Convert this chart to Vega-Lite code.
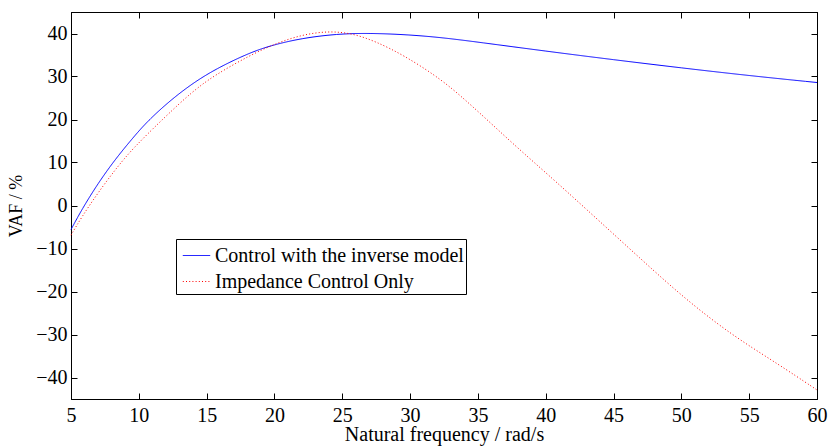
{
  "$schema": "https://vega.github.io/schema/vega-lite/v6.json",
  "width": 746,
  "height": 387,
  "autosize": "none",
  "padding": {"left": 71, "top": 12, "right": 14, "bottom": 47},
  "config": {
    "view": {"stroke": "#000", "strokeWidth": 1},
    "font": "Liberation Serif"
  },
  "data": {"values": [
    {"f": 5, "v": -5.6, "s": "Control with the inverse model"},
    {"f": 5.8, "v": -0.9, "s": "Control with the inverse model"},
    {"f": 7, "v": 5.2, "s": "Control with the inverse model"},
    {"f": 8.25, "v": 10.7, "s": "Control with the inverse model"},
    {"f": 9.5, "v": 15.5, "s": "Control with the inverse model"},
    {"f": 10.6, "v": 19.5, "s": "Control with the inverse model"},
    {"f": 12.3, "v": 24.4, "s": "Control with the inverse model"},
    {"f": 14, "v": 28.5, "s": "Control with the inverse model"},
    {"f": 15.7, "v": 31.8, "s": "Control with the inverse model"},
    {"f": 18, "v": 35.3, "s": "Control with the inverse model"},
    {"f": 19.7, "v": 37.2, "s": "Control with the inverse model"},
    {"f": 22, "v": 38.9, "s": "Control with the inverse model"},
    {"f": 24.6, "v": 39.9, "s": "Control with the inverse model"},
    {"f": 27, "v": 40.1, "s": "Control with the inverse model"},
    {"f": 30, "v": 39.7, "s": "Control with the inverse model"},
    {"f": 32.5, "v": 39.0, "s": "Control with the inverse model"},
    {"f": 35, "v": 38.0, "s": "Control with the inverse model"},
    {"f": 40, "v": 35.9, "s": "Control with the inverse model"},
    {"f": 45, "v": 33.9, "s": "Control with the inverse model"},
    {"f": 50, "v": 32.0, "s": "Control with the inverse model"},
    {"f": 55, "v": 30.2, "s": "Control with the inverse model"},
    {"f": 60, "v": 28.6, "s": "Control with the inverse model"},
    {"f": 5, "v": -6.9, "s": "Impedance Control Only"},
    {"f": 5.8, "v": -2.6, "s": "Impedance Control Only"},
    {"f": 7, "v": 3.0, "s": "Impedance Control Only"},
    {"f": 8.25, "v": 8.3, "s": "Impedance Control Only"},
    {"f": 9.5, "v": 13.1, "s": "Impedance Control Only"},
    {"f": 11.7, "v": 19.9, "s": "Impedance Control Only"},
    {"f": 14, "v": 26.7, "s": "Impedance Control Only"},
    {"f": 15.7, "v": 30.5, "s": "Impedance Control Only"},
    {"f": 18, "v": 34.6, "s": "Impedance Control Only"},
    {"f": 20, "v": 37.6, "s": "Impedance Control Only"},
    {"f": 22, "v": 39.7, "s": "Impedance Control Only"},
    {"f": 24, "v": 40.6, "s": "Impedance Control Only"},
    {"f": 25.8, "v": 40.0, "s": "Impedance Control Only"},
    {"f": 27.5, "v": 38.1, "s": "Impedance Control Only"},
    {"f": 29.5, "v": 35.0, "s": "Impedance Control Only"},
    {"f": 32.2, "v": 29.6, "s": "Impedance Control Only"},
    {"f": 34.2, "v": 24.2, "s": "Impedance Control Only"},
    {"f": 36.1, "v": 18.7, "s": "Impedance Control Only"},
    {"f": 38.1, "v": 12.9, "s": "Impedance Control Only"},
    {"f": 40.2, "v": 7.1, "s": "Impedance Control Only"},
    {"f": 42.8, "v": -0.3, "s": "Impedance Control Only"},
    {"f": 47.1, "v": -12.7, "s": "Impedance Control Only"},
    {"f": 50.3, "v": -21.8, "s": "Impedance Control Only"},
    {"f": 53.8, "v": -30.3, "s": "Impedance Control Only"},
    {"f": 57, "v": -36.6, "s": "Impedance Control Only"},
    {"f": 60, "v": -42.9, "s": "Impedance Control Only"}
  ]},
  "layer": [
    {
      "mark": {"type": "line", "strokeWidth": 1, "interpolate": "basis"},
      "encoding": {
        "x": {"field": "f", "type": "quantitative", "scale": {"domain": [5, 60], "nice": false, "zero": false},
              "axis": {"values": [5,10,15,20,25,30,35,40,45,50,55,60], "title": "Natural frequency / rad/s",
                       "grid": false, "domainColor": "#000", "tickColor": "#000", "labelColor": "#000", "titleColor": "#000",
                       "labelFont": "Liberation Serif", "titleFont": "Liberation Serif", "labelFontSize": 20, "titleFontSize": 20,
                       "titleFontWeight": "normal", "tickSize": -6, "labelPadding": 12, "titlePadding": -1, "labelFlush": false}},
        "y": {"field": "v", "type": "quantitative", "scale": {"domain": [-45, 45], "nice": false},
              "axis": {"values": [-40,-30,-20,-10,0,10,20,30,40], "title": "VAF / %",
                       "grid": false, "domainColor": "#000", "tickColor": "#000", "labelColor": "#000", "titleColor": "#000",
                       "labelFont": "Liberation Serif", "titleFont": "Liberation Serif", "labelFontSize": 20, "titleFontSize": 18,
                       "titleFontWeight": "normal", "tickSize": -6, "labelPadding": 10, "titlePadding": 10, "labelFlush": false}},
        "color": {"field": "s", "type": "nominal",
                  "scale": {"domain": ["Control with the inverse model", "Impedance Control Only"], "range": ["#0000ff", "#ff0000"]},
                  "legend": {"title": null, "orient": "none", "legendX": 105, "legendY": 227, "symbolType": "stroke",
                             "symbolSize": 750, "symbolStrokeWidth": 1, "labelFontSize": 20, "labelFont": "Liberation Serif", "labelColor": "#000",
                             "labelLimit": 0, "strokeColor": "#000", "padding": 2, "rowPadding": 1, "symbolOffset": 4, "fillColor": "#fff", "labelOffset": 4}},
        "strokeDash": {"field": "s", "type": "nominal",
                       "scale": {"domain": ["Control with the inverse model", "Impedance Control Only"], "range": [[1, 0], [1, 2.2]]},
                       "legend": {"title": null, "orient": "none", "legendX": 105, "legendY": 227, "symbolType": "stroke",
                             "symbolSize": 750, "symbolStrokeWidth": 1, "labelFontSize": 20, "labelFont": "Liberation Serif", "labelColor": "#000",
                             "labelLimit": 0, "strokeColor": "#000", "padding": 2, "rowPadding": 1, "symbolOffset": 4, "fillColor": "#fff", "labelOffset": 4}}
      }
    },
    {
      "mark": {"type": "rule", "opacity": 0},
      "encoding": {
        "x": {"field": "f", "type": "quantitative", "scale": {"domain": [5, 60], "nice": false, "zero": false},
              "axis": {"orient": "top", "values": [5,10,15,20,25,30,35,40,45,50,55,60], "labels": false, "title": null,
                       "grid": false, "domainColor": "#000", "tickColor": "#000", "tickSize": -6}},
        "y": {"field": "v", "type": "quantitative", "scale": {"domain": [-45, 45], "nice": false},
              "axis": {"orient": "right", "values": [-40,-30,-20,-10,0,10,20,30,40], "labels": false, "title": null,
                       "grid": false, "domainColor": "#000", "tickColor": "#000", "tickSize": -6}}
      }
    }
  ],
  "resolve": {"axis": {"x": "independent", "y": "independent"}}
}
